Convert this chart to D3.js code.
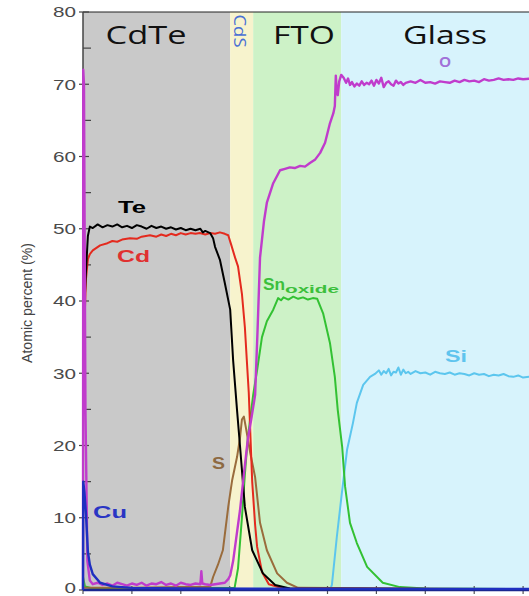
<!DOCTYPE html>
<html>
<head>
<meta charset="utf-8">
<script src="https://cdn.jsdelivr.net/npm/d3@7"></script>
<style>
  html, body { margin: 0; padding: 0; background: #fff; }
  svg { display: block; }
</style>
</head>
<body>
<svg id="chart" width="529" height="596"></svg>
<script>
// Depth profile of a CdTe / CdS / FTO / glass stack: atomic percent vs. sputter depth

// Layer bands along the depth axis
const layerNames  = ["CdTe", "CdS", "FTO", "Glass"];
const layerStart  = [0, 3.01, 3.48, 5.28];
const layerEnd    = [3.01, 3.48, 5.28, 9.2];
const layerColors = ["#c9c9c9", "#f7f3cd", "#cdf2c7", "#d7f3fc"];

// Axis ticks
const yMajorTicks = [0, 10, 20, 30, 40, 50, 60, 70, 80];
const yMinorTicks = [5, 15, 25, 35, 45, 55, 65, 75];
const xTicks = [0, 1, 2, 3, 4, 5, 6, 7, 8, 9];

// Element profiles: [depth, atomic %]
const oxygen = [[0,0],[0.005,72],[0.02,70],[0.05,25],[0.09,4],[0.14,1.3],[0.2,0.8],[0.3,1.0],[0.4,0.7],[0.5,0.9],[0.6,0.6],[0.7,1.0],[0.8,0.8],[0.9,0.6],[1.0,0.9],[1.1,0.7],[1.2,1.0],[1.3,0.6],[1.4,0.9],[1.5,0.8],[1.6,1.1],[1.7,0.7],[1.8,0.9],[1.9,0.6],[2.0,1.0],[2.1,0.8],[2.2,0.7],[2.3,0.9],[2.4,0.8],[2.42,2.6],[2.44,0.9],[2.5,0.8],[2.6,0.7],[2.7,0.8],[2.8,0.9],[2.9,1.0],[2.97,1.5],[3.01,2.0],[3.07,4],[3.13,7],[3.21,11],[3.29,16],[3.37,20.8],[3.45,24],[3.52,27],[3.57,36],[3.62,46],[3.7,51],[3.76,53.6],[3.89,56.3],[4.03,58.1],[4.13,58.3],[4.23,58.5],[4.33,58.4],[4.44,58.7],[4.54,58.6],[4.64,59.1],[4.75,59.6],[4.85,60.5],[4.95,61.9],[5.05,64.6],[5.12,66],[5.15,67],[5.17,71.2],[5.19,69],[5.21,68.5],[5.24,70.4],[5.28,71.3],[5.33,70.9],[5.38,70.2],[5.42,70.8],[5.46,69.9],[5.5,70.3],[5.55,69.7],[5.6,70.1],[5.65,69.8],[5.7,70.4],[5.75,69.9],[5.8,70.2],[5.85,70.0],[5.9,70.5],[5.95,69.8],[6.0,70.6],[6.05,70.1],[6.1,70.9],[6.15,69.6],[6.2,70.2],[6.25,70.4],[6.3,70.0],[6.35,69.8],[6.4,70.5],[6.45,70.1],[6.5,70.3],[6.55,69.9],[6.6,70.2],[6.7,70.4],[6.8,70.2],[6.9,70.6],[7.0,70.2],[7.1,70.3],[7.2,70.1],[7.3,70.4],[7.4,70.3],[7.5,70.2],[7.6,70.5],[7.7,70.3],[7.8,70.6],[7.9,70.4],[8.0,70.5],[8.1,70.3],[8.2,70.7],[8.3,70.5],[8.4,70.6],[8.5,70.8],[8.6,70.6],[8.7,70.7],[8.8,70.6],[8.9,70.8],[9.0,70.7],[9.2,70.8]];

const tellurium = [[0,34],[0.02,38],[0.06,44],[0.1,49],[0.14,50.3],[0.2,50.1],[0.3,50.6],[0.4,50.2],[0.5,50.5],[0.6,50.3],[0.7,50.6],[0.8,50.2],[0.9,50.4],[1.0,50.1],[1.1,50.5],[1.2,50.3],[1.3,50.0],[1.4,50.4],[1.5,50.1],[1.6,50.3],[1.7,50.0],[1.8,50.2],[1.9,49.9],[2.0,50.1],[2.1,49.8],[2.2,50.0],[2.3,49.8],[2.4,50.0],[2.45,49.5],[2.5,49.7],[2.6,49.4],[2.66,48.7],[2.7,47.5],[2.8,45.7],[2.9,42.5],[3.01,38.8],[3.07,31.8],[3.15,24.9],[3.21,20],[3.31,11.5],[3.46,5.5],[3.68,2.3],[3.93,0.7],[4.23,0.2],[9.2,0.1]];

const cadmium = [[0,27],[0.02,35],[0.06,43],[0.1,45.8],[0.14,46.5],[0.2,47.0],[0.35,47.7],[0.5,48.0],[0.6,48.3],[0.7,48.2],[0.8,48.5],[0.96,48.7],[1.1,48.6],[1.2,48.9],[1.37,49.1],[1.5,48.9],[1.6,49.2],[1.7,49.0],[1.8,49.3],[1.9,49.1],[2.0,49.4],[2.1,49.2],[2.2,49.4],[2.3,49.3],[2.39,49.4],[2.5,49.2],[2.6,49.4],[2.7,49.3],[2.8,49.5],[2.9,49.3],[2.97,49.1],[3.03,47.8],[3.11,46],[3.17,44.8],[3.25,41],[3.31,36.4],[3.35,31.8],[3.39,27.3],[3.42,22],[3.46,15],[3.52,9],[3.56,6],[3.66,2.5],[3.8,0.8],[4.1,0.2],[9.2,0.1]];

const sulfur = [[0,0.3],[1.0,0.3],[2.0,0.4],[2.6,0.4],[2.66,1.8],[2.76,3.5],[2.86,5.5],[2.97,11.5],[3.05,15.2],[3.15,18.4],[3.21,21],[3.25,23.6],[3.29,24],[3.33,22.5],[3.42,19],[3.52,15.6],[3.62,9.3],[3.76,5.5],[3.97,2.3],[4.17,1.0],[4.4,0.3],[9.2,0.1]];

const tinOxide = [[0,1.8],[0.04,0.5],[0.2,0.2],[3.1,0.3],[3.17,3],[3.25,10],[3.31,16],[3.37,21],[3.48,27],[3.56,30.4],[3.66,35],[3.76,37.2],[3.89,38.8],[3.99,40.4],[4.05,40.1],[4.1,40.5],[4.2,40.2],[4.3,40.6],[4.4,40.3],[4.5,40.5],[4.6,40.2],[4.7,40.4],[4.79,40.3],[4.91,38.3],[5.05,34.2],[5.15,29.5],[5.21,24.9],[5.3,19.8],[5.36,14.3],[5.46,9.3],[5.6,6.5],[5.81,3.2],[6.13,1.0],[6.48,0.4],[7.0,0.2],[9.2,0.1]];

const silicon = [[0,0],[5.05,0],[5.09,0.7],[5.19,7.3],[5.3,13.8],[5.4,19.4],[5.52,23.1],[5.6,25.9],[5.73,28.4],[5.87,29.5],[5.97,29.9],[6.05,30.4],[6.1,29.8],[6.15,30.3],[6.2,30.0],[6.25,30.6],[6.3,29.7],[6.35,30.2],[6.4,30.1],[6.45,30.8],[6.5,29.8],[6.55,30.5],[6.6,30.0],[6.65,30.2],[6.7,29.9],[6.8,30.3],[6.9,30.0],[7.0,30.1],[7.1,29.8],[7.2,30.2],[7.3,30.0],[7.4,29.9],[7.5,30.1],[7.6,29.8],[7.7,30.0],[7.8,29.9],[7.9,29.7],[8.0,30.0],[8.1,29.8],[8.2,29.9],[8.3,29.6],[8.4,29.8],[8.5,29.7],[8.6,29.9],[8.7,29.6],[8.8,29.5],[8.9,29.7],[9.0,29.4],[9.2,29.6]];

const copper = [[0,0],[0.005,15],[0.03,13.5],[0.06,10.6],[0.1,5.3],[0.14,3.5],[0.2,2.2],[0.35,1.0],[0.6,0.5],[1.0,0.3],[2.0,0.2],[9.2,0.15]];

const series = [
  { name: "Si",  data: silicon,   color: "#5cc6ee", width: 2 },
  { name: "Sn",  data: tinOxide,  color: "#33c133", width: 2 },
  { name: "S",   data: sulfur,    color: "#9a6c3c", width: 2 },
  { name: "Cd",  data: cadmium,   color: "#e42a1e", width: 2 },
  { name: "Te",  data: tellurium, color: "#000000", width: 2 },
  { name: "O",   data: oxygen,    color: "#c03ccc", width: 2.4 }
];
const copperSeries = { name: "Cu", data: copper, color: "#1f2fc0", width: 2.4 };

const svg = d3.select("#chart");
const x = d3.scaleLinear().domain([0, 9.2]).range([83, 83 + 9.2 * 48.9]);
const y = d3.scaleLinear().domain([0, 80]).range([590, 12]);

// Layer backgrounds
svg.append("g").selectAll("rect")
  .data(layerNames.map((n, i) => ({ n, a: layerStart[i], b: layerEnd[i], c: layerColors[i] })))
  .join("rect")
  .attr("x", d => x(d.a)).attr("width", d => x(d.b) - x(d.a))
  .attr("y", y(80)).attr("height", y(0) - y(80))
  .attr("fill", d => d.c);

// Frame top edge
svg.append("line")
  .attr("x1", x(0)).attr("x2", 529).attr("y1", y(80)).attr("y2", y(80))
  .attr("stroke", "#222").attr("stroke-width", 1);

// Layer titles
const titleFont = "'Open Sans', 'Liberation Sans', sans-serif";
const titles = [
  { t: "CdTe",  cx: 146, len: 81 },
  { t: "FTO",   cx: 304, len: 62 },
  { t: "Glass", cx: 445, len: 84 }
];
svg.append("g").selectAll("text").data(titles).join("text")
  .attr("x", d => d.cx).attr("y", 44)
  .attr("text-anchor", "middle")
  .attr("textLength", d => d.len).attr("lengthAdjust", "spacingAndGlyphs")
  .style("font-family", titleFont).style("font-size", "25px").style("fill", "#111")
  .text(d => d.t);

svg.append("text")
  .attr("transform", "translate(234,31) rotate(90)")
  .attr("text-anchor", "middle")
  .attr("textLength", 33).attr("lengthAdjust", "spacingAndGlyphs")
  .style("font-family", titleFont).style("font-size", "17px").style("fill", "#4a70d4")
  .text("CdS");

// Y axis
const yAxis = svg.append("g");
yAxis.append("line")
  .attr("x1", x(0)).attr("x2", x(0)).attr("y1", y(80)).attr("y2", y(0))
  .attr("stroke", "#444").attr("stroke-width", 1.5);
yAxis.selectAll("line.major").data(yMajorTicks).join("line").attr("class", "major")
  .attr("x1", 79).attr("x2", 89).attr("y1", d => y(d)).attr("y2", d => y(d))
  .attr("stroke", "#444").attr("stroke-width", 1.2);
yAxis.selectAll("line.minor").data(yMinorTicks).join("line").attr("class", "minor")
  .attr("x1", 83).attr("x2", 91).attr("y1", d => y(d)).attr("y2", d => y(d))
  .attr("stroke", "#444").attr("stroke-width", 1.2);
yAxis.selectAll("text").data(yMajorTicks).join("text")
  .attr("x", 76).attr("y", d => Math.min(y(d), 588)).attr("dy", "0.36em")
  .attr("text-anchor", "end")
  .attr("textLength", d => String(d).length * 11.5).attr("lengthAdjust", "spacingAndGlyphs")
  .style("font-family", "'Liberation Sans', Arial, sans-serif").style("font-size", "15px").style("fill", "#4a4a4a")
  .text(d => d);

svg.append("text")
  .attr("transform", "translate(32,303) rotate(-90)")
  .attr("text-anchor", "middle")
  .attr("textLength", 120).attr("lengthAdjust", "spacingAndGlyphs")
  .style("font-family", "'Liberation Sans Narrow', 'Liberation Sans', Arial, sans-serif")
  .style("font-size", "14px").style("fill", "#444")
  .text("Atomic percent (%)");

// X ticks
svg.append("g").selectAll("line").data(xTicks).join("line")
  .attr("x1", d => x(d)).attr("x2", d => x(d)).attr("y1", 586).attr("y2", 594)
  .attr("stroke", "#555").attr("stroke-width", 1.2);

// Profiles
const line = d3.line().x(d => x(d[0])).y(d => y(d[1]));
svg.append("g").selectAll("path").data(series).join("path")
  .attr("d", d => line(d.data))
  .attr("fill", "none")
  .attr("stroke", d => d.color)
  .attr("stroke-width", d => d.width)
  .attr("stroke-linejoin", "round");

// Baseline at zero
svg.append("line")
  .attr("x1", x(0)).attr("x2", 529).attr("y1", y(0)).attr("y2", y(0))
  .attr("stroke", "#1a2790").attr("stroke-width", 2.5);

svg.append("path")
  .attr("d", line(copperSeries.data))
  .attr("fill", "none")
  .attr("stroke", copperSeries.color)
  .attr("stroke-width", copperSeries.width)
  .attr("stroke-linejoin", "round");

// Element labels
const labelFont = "'Liberation Sans', Arial, sans-serif";
const labels = [
  { t: "Te", x: 118, y: 213, len: 28, c: "#000000" },
  { t: "Cd", x: 117, y: 262, len: 33, c: "#e03030" },
  { t: "S",  x: 212, y: 469, len: 13, c: "#8d6a42" },
  { t: "Cu", x: 93,  y: 518, len: 34, c: "#2a35c4" },
  { t: "Si", x: 445, y: 362, len: 22, c: "#5fc4ee" }
];
svg.append("g").selectAll("text").data(labels).join("text")
  .attr("x", d => d.x).attr("y", d => d.y)
  .attr("textLength", d => d.len).attr("lengthAdjust", "spacingAndGlyphs")
  .style("font-family", labelFont).style("font-size", "16px").style("font-weight", "bold")
  .style("fill", d => d.c)
  .text(d => d.t);

const sn = svg.append("text")
  .attr("x", 263).attr("y", 290)
  .style("font-family", labelFont).style("font-weight", "bold").style("fill", "#3cbf3c");
sn.append("tspan").attr("textLength", 22).attr("lengthAdjust", "spacingAndGlyphs")
  .style("font-size", "16px").text("Sn");
sn.append("tspan").attr("dy", 3).attr("textLength", 54).attr("lengthAdjust", "spacingAndGlyphs")
  .style("font-size", "11px").text("oxide");

svg.append("text")
  .attr("x", 445).attr("y", 67).attr("text-anchor", "middle")
  .style("font-family", labelFont).style("font-size", "15px").style("font-weight", "bold")
  .style("fill", "#a070d8")
  .text("O");
</script>
</body>
</html>
